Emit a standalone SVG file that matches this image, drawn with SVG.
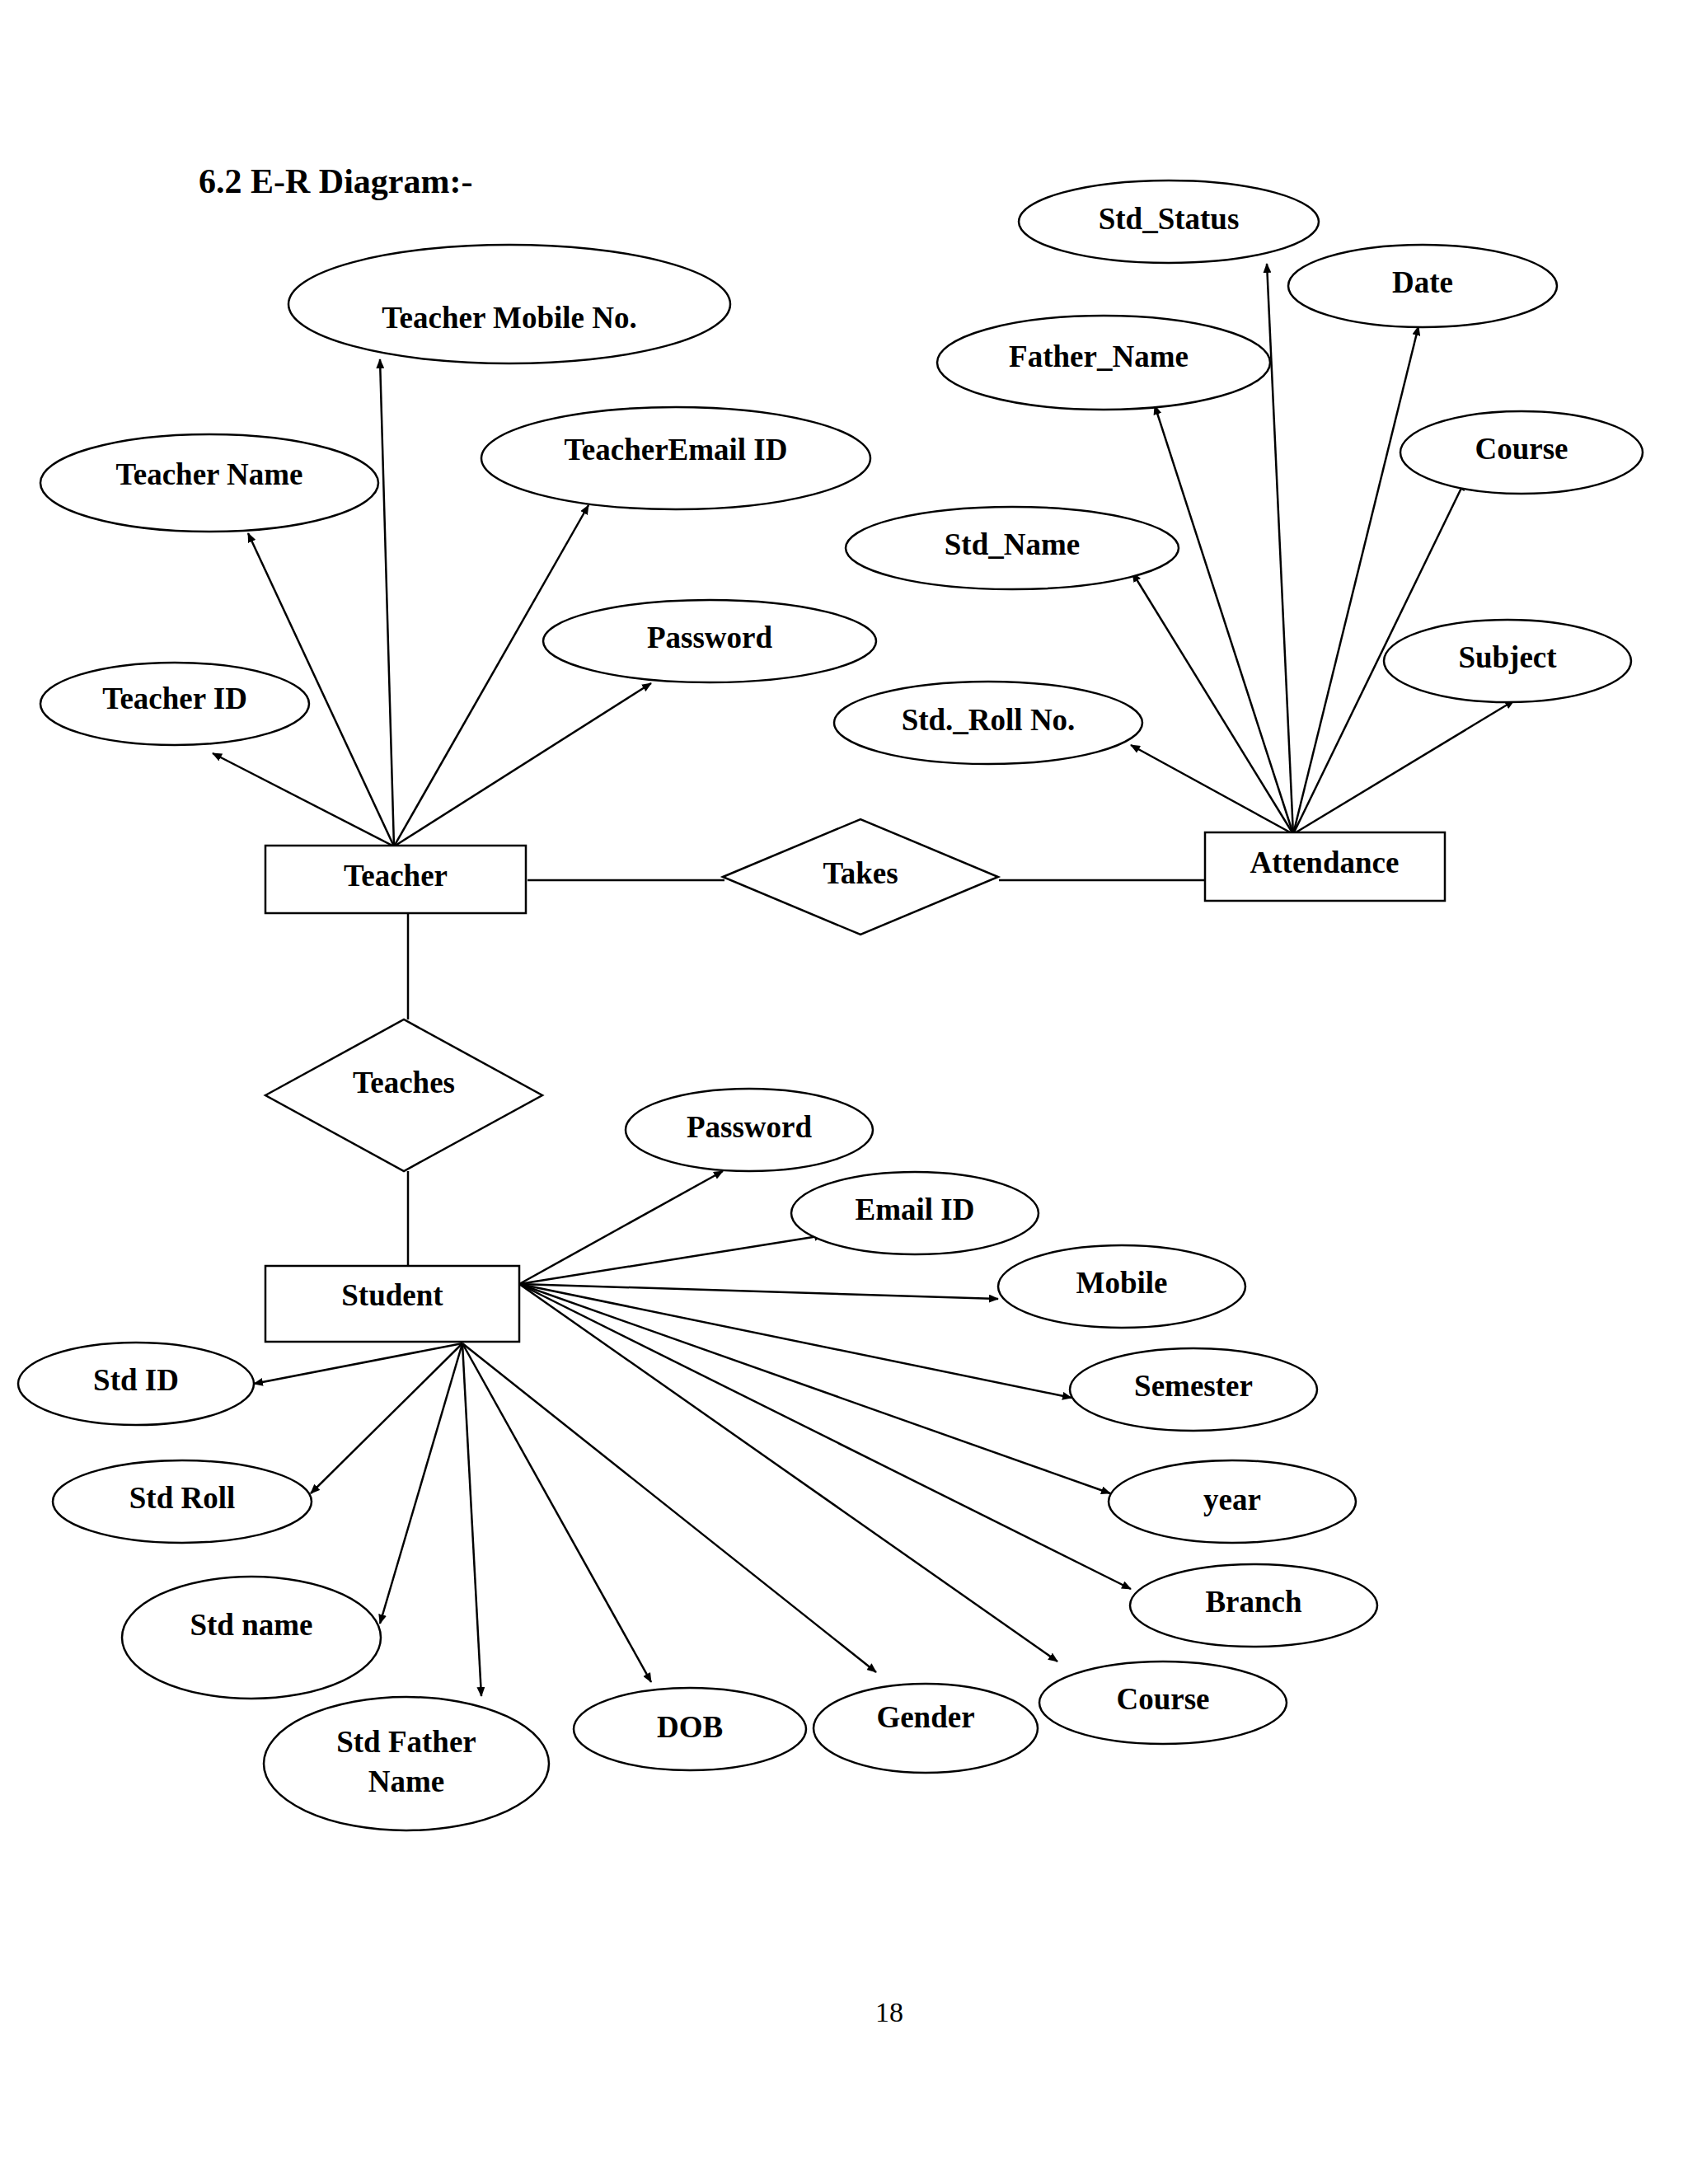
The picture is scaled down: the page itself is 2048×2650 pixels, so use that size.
<svg xmlns="http://www.w3.org/2000/svg" width="2048" height="2650" viewBox="0 0 2048 2650">
<defs>
<marker id="a" markerWidth="12" markerHeight="10" refX="11" refY="5" orient="auto" markerUnits="userSpaceOnUse"><path d="M0,0 L12,5 L0,10 z" fill="#000"/></marker>
<style>
.s{fill:#fff;stroke:#000;stroke-width:2.5}
text{font-family:"Liberation Serif",serif;font-weight:bold;font-size:37px;text-anchor:middle;dominant-baseline:middle;fill:#000}
.c line{stroke:#000;stroke-width:2.5}
.c line.ar{marker-end:url(#a)}
</style>
</defs>
<rect width="2048" height="2650" fill="#fff"/>
<text x="241" y="224" style="text-anchor:start;font-size:42px">6.2 E-R Diagram:-</text>
<g class="c">
<line class="ar" x1="478" y1="1027" x2="258" y2="914"/>
<line class="ar" x1="478" y1="1027" x2="301" y2="647"/>
<line class="ar" x1="478" y1="1027" x2="461" y2="436"/>
<line class="ar" x1="478" y1="1027" x2="714" y2="613"/>
<line class="ar" x1="478" y1="1027" x2="790" y2="829"/>
<line x1="640" y1="1068" x2="879" y2="1068"/>
<line x1="1212" y1="1068" x2="1462" y2="1068"/>
<line x1="495" y1="1108" x2="495" y2="1237"/>
<line x1="495" y1="1421" x2="495" y2="1536"/>
<line class="ar" x1="1569" y1="1012" x2="1372" y2="904"/>
<line class="ar" x1="1569" y1="1012" x2="1374" y2="695"/>
<line class="ar" x1="1569" y1="1012" x2="1401" y2="492"/>
<line class="ar" x1="1569" y1="1012" x2="1537" y2="320"/>
<line class="ar" x1="1569" y1="1012" x2="1721" y2="396"/>
<line class="ar" x1="1569" y1="1012" x2="1777" y2="584"/>
<line class="ar" x1="1569" y1="1012" x2="1837" y2="850"/>
<line class="ar" x1="630" y1="1558" x2="877" y2="1421"/>
<line class="ar" x1="630" y1="1558" x2="999" y2="1499"/>
<line class="ar" x1="630" y1="1558" x2="1211" y2="1576"/>
<line class="ar" x1="630" y1="1558" x2="1300" y2="1696"/>
<line class="ar" x1="630" y1="1558" x2="1347" y2="1812"/>
<line class="ar" x1="630" y1="1558" x2="1372" y2="1928"/>
<line class="ar" x1="630" y1="1558" x2="1283" y2="2016"/>
<line class="ar" x1="561" y1="1630" x2="308" y2="1679"/>
<line class="ar" x1="561" y1="1630" x2="377" y2="1812"/>
<line class="ar" x1="561" y1="1630" x2="461" y2="1970"/>
<line class="ar" x1="561" y1="1630" x2="584" y2="2058"/>
<line class="ar" x1="561" y1="1630" x2="790" y2="2041"/>
<line class="ar" x1="561" y1="1630" x2="1063" y2="2029"/>
</g>
<g id="teacher"><rect class="s" x="322" y="1026" width="316" height="82"/><text x="480" y="1067">Teacher</text></g>
<g id="takes"><polygon class="s" points="877,1064 1044,994 1211,1064 1044,1134"/><text x="1044" y="1064">Takes</text></g>
<g id="attendance"><rect class="s" x="1462" y="1010" width="291" height="83"/><text x="1607" y="1051">Attendance</text></g>
<g id="teaches"><polygon class="s" points="322,1329 490,1237 658,1329 490,1421"/><text x="490" y="1318">Teaches</text></g>
<g id="student"><rect class="s" x="322" y="1536" width="308" height="92"/><text x="476" y="1576">Student</text></g>
<g id="t_mobile"><ellipse class="s" cx="618" cy="369" rx="268" ry="72"/><text x="618" y="390">Teacher Mobile No.</text></g>
<g id="t_name"><ellipse class="s" cx="254" cy="586" rx="205" ry="59"/><text x="254" y="580">Teacher Name</text></g>
<g id="t_email"><ellipse class="s" cx="820" cy="556" rx="236" ry="62"/><text x="820" y="550">TeacherEmail ID</text></g>
<g id="t_password"><ellipse class="s" cx="861" cy="778" rx="202" ry="50"/><text x="861" y="778">Password</text></g>
<g id="t_id"><ellipse class="s" cx="212" cy="854" rx="163" ry="50"/><text x="212" y="852">Teacher ID</text></g>
<g id="a_status"><ellipse class="s" cx="1418" cy="269" rx="182" ry="50"/><text x="1418" y="270">Std_Status</text></g>
<g id="a_date"><ellipse class="s" cx="1726" cy="347" rx="163" ry="50"/><text x="1726" y="347">Date</text></g>
<g id="a_father"><ellipse class="s" cx="1339" cy="440" rx="202" ry="57"/><text x="1333" y="437">Father_Name</text></g>
<g id="a_course"><ellipse class="s" cx="1846" cy="549" rx="147" ry="50"/><text x="1846" y="549">Course</text></g>
<g id="a_name"><ellipse class="s" cx="1228" cy="665" rx="202" ry="50"/><text x="1228" y="665">Std_Name</text></g>
<g id="a_subject"><ellipse class="s" cx="1829" cy="802" rx="150" ry="50"/><text x="1829" y="802">Subject</text></g>
<g id="a_roll"><ellipse class="s" cx="1199" cy="877" rx="187" ry="50"/><text x="1199" y="878">Std._Roll No.</text></g>
<g id="s_password"><ellipse class="s" cx="909" cy="1371" rx="150" ry="50"/><text x="909" y="1372">Password</text></g>
<g id="s_email"><ellipse class="s" cx="1110" cy="1472" rx="150" ry="50"/><text x="1110" y="1472">Email ID</text></g>
<g id="s_mobile"><ellipse class="s" cx="1361" cy="1561" rx="150" ry="50"/><text x="1361" y="1561">Mobile</text></g>
<g id="s_semester"><ellipse class="s" cx="1448" cy="1686" rx="150" ry="50"/><text x="1448" y="1686">Semester</text></g>
<g id="s_year"><ellipse class="s" cx="1495" cy="1822" rx="150" ry="50"/><text x="1495" y="1824">year</text></g>
<g id="s_branch"><ellipse class="s" cx="1521" cy="1948" rx="150" ry="50"/><text x="1521" y="1948">Branch</text></g>
<g id="s_course"><ellipse class="s" cx="1411" cy="2066" rx="150" ry="50"/><text x="1411" y="2066">Course</text></g>
<g id="s_gender"><ellipse class="s" cx="1123" cy="2097" rx="136" ry="54"/><text x="1123" y="2088">Gender</text></g>
<g id="s_dob"><ellipse class="s" cx="837" cy="2098" rx="141" ry="50"/><text x="837" y="2100">DOB</text></g>
<g id="s_father"><ellipse class="s" cx="493" cy="2140" rx="173" ry="81"/><text x="493" y="2118">Std Father</text><text x="493" y="2166">Name</text></g>
<g id="s_name"><ellipse class="s" cx="305" cy="1987" rx="157" ry="74"/><text x="305" y="1976">Std name</text></g>
<g id="s_roll"><ellipse class="s" cx="221" cy="1822" rx="157" ry="50"/><text x="221" y="1822">Std Roll</text></g>
<g id="s_id"><ellipse class="s" cx="165" cy="1679" rx="143" ry="50"/><text x="165" y="1679">Std ID</text></g>
<text x="1079" y="2445" style="font-weight:normal;font-size:34px">18</text>
</svg>
